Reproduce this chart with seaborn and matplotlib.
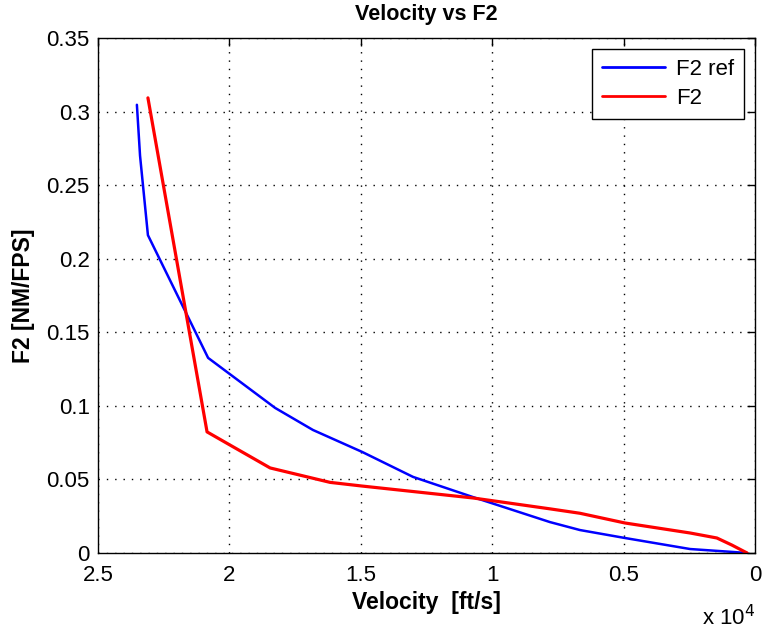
import numpy as np
import pandas as pd
import matplotlib
matplotlib.use("Agg")
import matplotlib.pyplot as plt
import seaborn as sns
from matplotlib.ticker import FuncFormatter, FixedLocator
from matplotlib.lines import Line2D

# Data (velocity in ft/s, F2 in NM/FPS)
vel_ref = [23520, 23400, 23100, 20810, 18260, 16820, 14950, 13010, 10730, 7800, 6660, 4950, 2470, 840, 300]
f2_ref = [0.3046, 0.27, 0.216, 0.1326, 0.0986, 0.0836, 0.0687, 0.0517, 0.038, 0.021, 0.0156, 0.0102, 0.0027, 0.0007, 0.0]

vel_f2 = [23100, 20850, 19980, 18450, 16170, 14950, 10730, 7800, 6660, 4950, 2470, 1450, 880, 300]
f2_f2 = [0.3093, 0.0823, 0.0734, 0.0578, 0.048, 0.0455, 0.0374, 0.030, 0.027, 0.0204, 0.0136, 0.0102, 0.0054, 0.0]

x_ticks = [25000, 20000, 15000, 10000, 5000, 0]
y_ticks = [0, 0.05, 0.1, 0.15, 0.2, 0.25, 0.3, 0.35]

df = pd.concat([
    pd.DataFrame({"Velocity": vel_ref, "F2": f2_ref, "series": "F2 ref"}),
    pd.DataFrame({"Velocity": vel_f2, "F2": f2_f2, "series": "F2"}),
], ignore_index=True)

sns.set_style("white")
plt.rcParams['font.family'] = ['Liberation Sans', 'DejaVu Sans']
plt.rcParams['text.color'] = 'black'
plt.rcParams['axes.labelcolor'] = 'black'
plt.rcParams['xtick.color'] = 'black'
plt.rcParams['ytick.color'] = 'black'

fig = plt.figure(figsize=(7.62, 6.32), dpi=100)
ax = fig.add_axes([0.1286, 0.125, 0.8622, 0.8149])

sns.lineplot(data=df, x="Velocity", y="F2", hue="series", sort=False,
             palette={"F2 ref": "#0000ff", "F2": "#ff0000"}, ax=ax,
             estimator=None, legend=False)
lines = ax.get_lines()
lines[0].set_linewidth(1.8)
lines[1].set_linewidth(2.3)

ax.set_xlim(25000, 0)
ax.set_ylim(0, 0.35)
ax.xaxis.set_major_locator(FixedLocator(x_ticks))
ax.yaxis.set_major_locator(FixedLocator(y_ticks))
ax.xaxis.set_major_formatter(FuncFormatter(lambda v, p: f"{v/1e4:g}"))
ax.yaxis.set_major_formatter(FuncFormatter(lambda v, p: f"{v:g}"))
ax.tick_params(direction="in", top=True, right=True, labelsize=16, length=6, width=1,
               colors="black")
ax.tick_params(axis="x", pad=8.5)
ax.tick_params(axis="y", pad=6)
ax.grid(True, linestyle=(0, (1, 5)), color="black", linewidth=1.0)
for s in ax.spines.values():
    s.set_color("black")
    s.set_linewidth(1)

ax.set_title("Velocity vs F2", fontsize=15.5, fontweight="bold", pad=13, color="black")
ax.set_xlabel("Velocity  [ft/s]", fontsize=16.5, fontweight="bold", labelpad=4, color="black")
ax.set_ylabel("F2 [NM/FPS]", fontsize=16.5, fontweight="bold", labelpad=8, color="black")
ax.text(1.0, -0.126, r"x 10$^{4}$", transform=ax.transAxes, ha="right", va="center",
        fontsize=16, color="black")

handles = [Line2D([], [], color="#0000ff", lw=2), Line2D([], [], color="#ff0000", lw=2)]
leg = ax.legend(handles, ["F2 ref", "F2"], loc="upper right", fontsize=16, frameon=True,
                fancybox=False, edgecolor="black", framealpha=1, handlelength=2.8,
                borderaxespad=0.5, labelspacing=0.35, borderpad=0.45, handletextpad=0.5)
leg.get_frame().set_linewidth(1)

fig.savefig("out.png", dpi=100)
